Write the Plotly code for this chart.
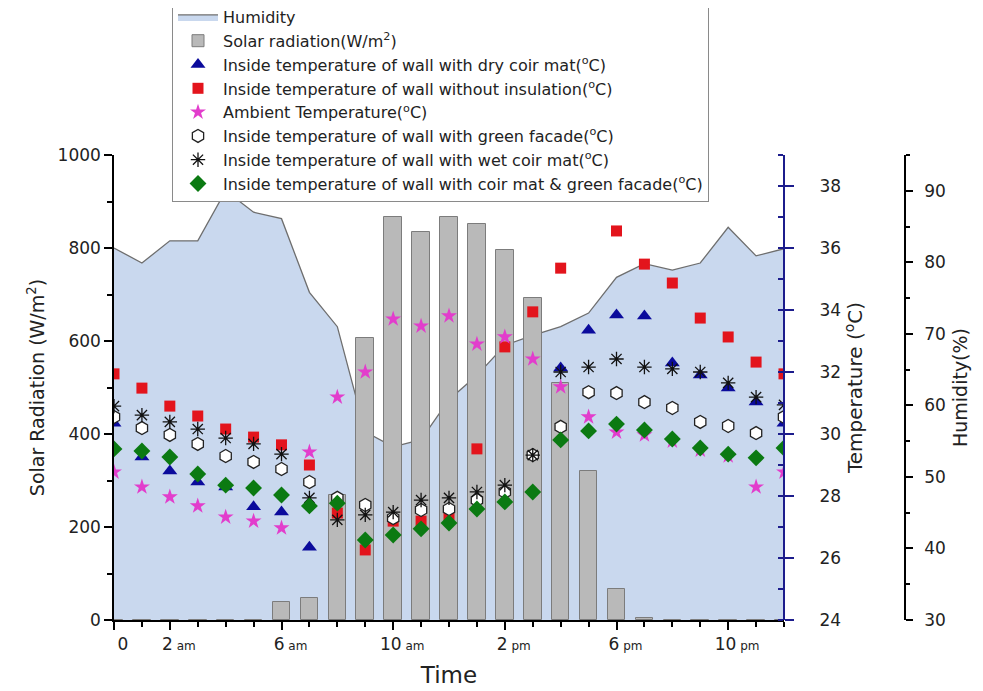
import plotly.graph_objects as go

hours = list(range(25))

humidity = [82.0, 79.9, 83.0, 83.0, 90.0, 87.0, 86.1, 75.8, 71.0, 56.3, 54.2, 55.2, 60.8,
            64.2, 68.4, 69.8, 71.0, 72.9, 77.9, 79.8, 78.9, 79.9, 84.9, 80.9, 81.9]

solar = [0, 0, 0, 0, 0, 0, 39, 47, 268, 606, 867, 835, 867, 852, 796, 692, 510, 321, 66, 4,
         0, 0, 0, 0, 0]

t_dry_coir = [30.35, 29.26, 28.81, 28.45, 28.29, 27.65, 27.48, 26.35, None, None, None, None, None,
              None, None, None, 32.13, 33.35, 33.84, 33.81, 32.29, 31.90, 31.48, 31.03, 30.35]

t_no_insul = [31.94, 31.48, 30.90, 30.58, 30.16, 29.90, 29.65, 29.00, 27.45, 26.26, 27.19, 27.19, 27.39,
              29.52, 32.81, 33.94, 35.35, 37.71, 36.55, 35.48, 34.87, 33.74, 33.13, 32.32, 31.94]

t_ambient = [28.77, 28.29, 27.97, 27.68, 27.32, 27.19, 26.97, 29.42, 31.19, 32.00, 33.71, 33.48, 33.81,
             32.90, 33.13, 32.42, 31.52, 30.55, 30.06, 29.97, 29.77, 29.48, 29.29, 28.29, 28.77]

t_green = [30.55, 30.19, 29.97, 29.68, 29.29, 29.10, 28.87, 28.45, 27.94, 27.71, 27.29, 27.55, 27.58,
           27.87, 28.13, 29.32, 30.23, 31.35, 31.32, 31.03, 30.84, 30.39, 30.26, 30.03, 30.55]

t_wet_coir = [30.90, 30.61, 30.39, 30.16, 29.87, 29.68, 29.35, 27.94, 27.23, 27.39, 27.48, 27.87, 27.94,
              28.13, 28.35, 29.32, 32.00, 32.16, 32.42, 32.16, 32.10, 32.00, 31.65, 31.19, 30.94]

t_coir_green = [29.52, 29.45, 29.26, 28.71, 28.35, 28.26, 28.03, 27.68, 27.77, 26.58, 26.74, 26.94, 27.13,
                27.58, 27.81, 28.13, 29.81, 30.10, 30.32, 30.13, 29.84, 29.55, 29.35, 29.23, 29.55]

x_tickvals = [0, 2, 6, 10, 14, 18, 22]
x_ticknum = ["0", "2", "6", "10", "2", "6", "10"]
x_ticksuffix = ["", "am", "am", "am", "pm", "pm", "pm"]

FONT = "'DejaVu Sans', Arial, sans-serif"
x_ticktext = [n if s == "" else f"{n}<span style='font-size:12px'> {s}</span>"
              for n, s in zip(x_ticknum, x_ticksuffix)]

fig = go.Figure()

fig.add_trace(go.Scatter(
    x=hours, y=humidity, name="Humidity", mode="lines", fill="tozeroy",
    fillcolor="#c9d8ee", line=dict(color="#6e6e6e", width=1.3), yaxis="y"))

fig.add_trace(go.Bar(
    x=hours, y=solar, name="Solar radiation(W/m<sup>2</sup>)", width=0.63,
    marker=dict(color="#b9b9b9", line=dict(color="#7c7c7c", width=1)), yaxis="y2"))

marker_specs = [
    (t_dry_coir, "Inside temperature of wall with dry coir mat(<sup>o</sup>C)",
     dict(symbol="triangle-up", size=13, color="#0b0b9c")),
    (t_no_insul, "Inside temperature of wall without insulation(<sup>o</sup>C)",
     dict(symbol="square", size=11, color="#e3141c")),
    (t_ambient, "Ambient Temperature(<sup>o</sup>C)",
     dict(symbol="star", size=12, color="#e23dcc")),
    (t_green, "Inside temperature of wall with green facade(<sup>o</sup>C)",
     dict(symbol="hexagon", size=13, color="white", line=dict(color="#222222", width=1.3))),
    (t_wet_coir, "Inside temperature of wall with wet coir mat(<sup>o</sup>C)",
     dict(symbol="asterisk-open", size=12, color="#111111", line=dict(color="#111111", width=1.3))),
    (t_coir_green, "Inside temperature of wall with coir mat & green facade(<sup>o</sup>C)",
     dict(symbol="diamond", size=13, color="#0b7a12")),
]
for vals, name, mk in marker_specs:
    fig.add_trace(go.Scatter(x=hours, y=vals, name=name, mode="markers",
                             marker=mk, yaxis="y3"))

# page body has an 8px offset; figure coordinates below are screen minus 8
L, R, T = 106, 48, 147
W, H = 983, 691
PH = 465
B = H - T - PH
pw = W - L - R
x_end = (776 - L) / pw
hum_pos = (897 - L) / pw

fig.update_layout(
    width=W, height=H,
    margin=dict(l=L, r=R, t=T, b=B, autoexpand=False),
    paper_bgcolor="white", plot_bgcolor="white",
    font=dict(family=FONT, size=17, color="#222222"),
    showlegend=True,
    bargap=0,
    legend=dict(x=(164 - L) / pw, y=1 + (T + 9) / PH, xanchor="left", yanchor="top",
                bgcolor="white", bordercolor="#8a8a8a", borderwidth=1,
                font=dict(size=16, family=FONT, color="#222222"),
                itemwidth=40, tracegroupgap=0),
    xaxis=dict(domain=[0, x_end], range=[0, 24], anchor="y",
               tickvals=x_tickvals, ticktext=x_ticktext, ticklabelshift=9,
               ticks="outside", ticklen=8, tickwidth=1.5, tickcolor="black",
               minor=dict(dtick=1, tick0=0, ticks="outside", ticklen=5, tickwidth=1.5, tickcolor="black"),
               showline=True, linecolor="black", linewidth=1.5, showgrid=False, zeroline=False,
               tickfont=dict(size=17),
               title=dict(text="Time", font=dict(size=23), standoff=14)),
    yaxis=dict(range=[30, 95], anchor="free", position=hum_pos, side="right",
               tickvals=[30, 40, 50, 60, 70, 80, 90],
               ticks="outside", ticklen=7, tickwidth=1.5, tickcolor="black",
               minor=dict(dtick=5, tick0=30, ticks="outside", ticklen=4, tickwidth=1.5, tickcolor="black"),
               showline=True, linecolor="black", linewidth=1.5, showgrid=False, zeroline=False,
               tickfont=dict(size=17), ticklabelstandoff=8,
               title=dict(text="Humidity(%)", font=dict(size=19), standoff=8)),
    yaxis2=dict(range=[0, 1000], overlaying="y", anchor="x", side="left",
                dtick=200, tick0=0,
                ticks="outside", ticklen=8, tickwidth=1.5, tickcolor="black",
                minor=dict(dtick=100, tick0=0, ticks="outside", ticklen=5, tickwidth=1.5, tickcolor="black"),
                showline=True, linecolor="black", linewidth=1.5, showgrid=False, zeroline=False,
                tickfont=dict(size=17),
                title=dict(text="Solar Radiation (W/m<sup>2</sup>)", font=dict(size=19), standoff=8)),
    yaxis3=dict(range=[24, 39], overlaying="y", anchor="free", position=x_end, side="right",
                tickvals=[24, 26, 28, 30, 32, 34, 36, 38],
                ticks="outside", ticklen=9, tickwidth=1.5, tickcolor="#1c1c8c",
                minor=dict(dtick=1, tick0=24, ticks="inside", ticklen=5, tickwidth=1.5, tickcolor="#1c1c8c"),
                showline=True, linecolor="#1c1c8c", linewidth=2, showgrid=False, zeroline=False,
                tickfont=dict(size=17), ticklabelstandoff=22,
                title=dict(text="Temperature (<sup>o</sup>C)", font=dict(size=20), standoff=6)),
)

fig.write_html("out.html")
